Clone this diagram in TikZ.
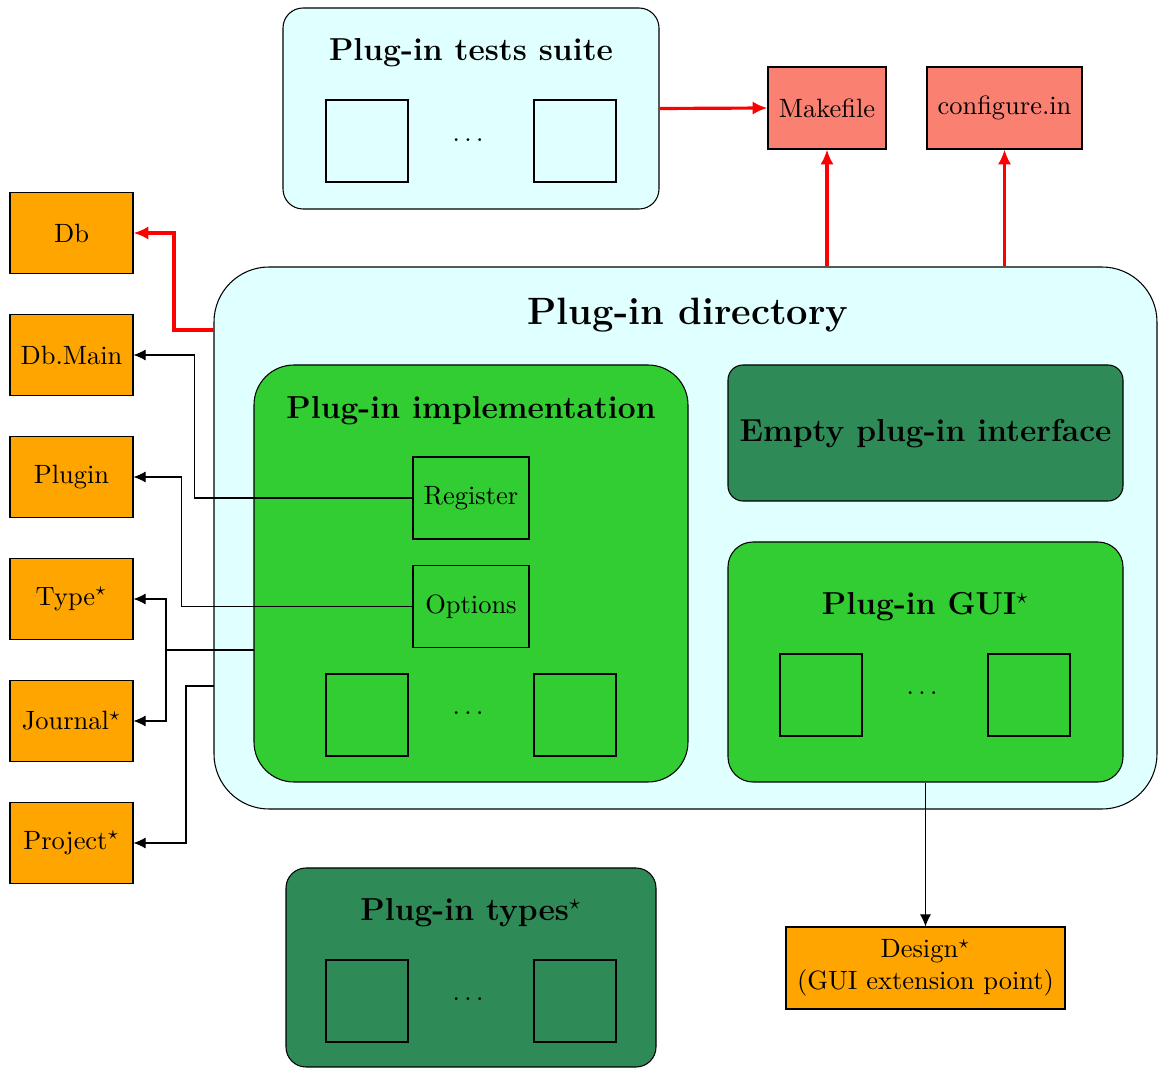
\documentclass[tikz,border=0pt]{standalone}
\usetikzlibrary{arrows.meta}

\definecolor{lightcyan}{HTML}{E0FFFF}
\definecolor{limegreen}{HTML}{32CD32}
\definecolor{seagreen}{HTML}{2E8B57}
\definecolor{boxorange}{HTML}{FFA500}
\definecolor{salmon}{HTML}{FA8072}
\def\pxu{0.378pt}

\begin{document}
\begin{tikzpicture}[x=\pxu,y=-\pxu,>={Latex[length=4.6pt,width=4.2pt]},
	frame/.style={draw,inner sep=0pt,rounded corners=#1},
	title/.style={font=\large\bfseries},
	item/.style={draw,fill=boxorange,minimum width=123*\pxu,minimum height=81*\pxu,inner sep=0pt},
	build/.style={draw,fill=salmon,minimum height=82*\pxu,inner sep=0pt},
	cell/.style={draw,minimum size=82*\pxu,inner sep=0pt},
	redwire/.style={-{Latex[length=5.6pt,width=5pt]},red,line width=1.2pt}]
\useasboundingbox (0,0) rectangle (1158,1068);

% frames
\node[frame=20*\pxu,fill=lightcyan,minimum width=376*\pxu,minimum height=201*\pxu] (suite) at (471,108.5) {};
\node[title] (suitetitle) at (471,53) {Plug-in tests suite};

\node[frame=55*\pxu,fill=lightcyan,minimum width=943*\pxu,minimum height=542*\pxu] (directory) at (685.5,538) {};
\node[font=\Large\bfseries] (dirtitle) at (688,315) {Plug-in directory};

\node[frame=40*\pxu,fill=limegreen,minimum width=434*\pxu,minimum height=417*\pxu] (impl) at (471,573.5) {};
\node[title] (impltitle) at (471,411) {Plug-in implementation};

\node[frame=15*\pxu,fill=seagreen,minimum width=395*\pxu,minimum height=136*\pxu] (iface) at (925.5,433) {};
\node[title] (ifacetitle) at (925.5,434) {Empty plug-in interface};

\node[frame=25*\pxu,fill=limegreen,minimum width=395*\pxu,minimum height=240*\pxu] (gui) at (925.5,662) {};
\node[title] (guititle) at (925.5,607) {Plug-in GUI$^\star$};

\node[frame=20*\pxu,fill=seagreen,minimum width=370*\pxu,minimum height=199*\pxu] (types) at (471,967.5) {};
\node[title] (typestitle) at (471,913) {Plug-in types$^\star$};

% squares and dots
\foreach \x/\y/\n in {367/141/sa,575/141/sb,367/715/ia,575/715/ib,821/695/ga,1029/695/gb,367/1001/ta,575/1001/tb}
{
	\node[cell] (\n) at (\x,\y) {};
}
\foreach \x/\y/\n in {468/140/sdots,468/713/idots,922/693/gdots,468/999/tdots}
{
	\node (\n) at (\x,\y) {$\ldots$};
}

\node[draw,minimum width=116*\pxu,minimum height=82*\pxu,inner sep=0pt] (reg) at (471,498) {Register};
\node[draw,minimum width=116*\pxu,minimum height=82*\pxu,inner sep=0pt] (opt) at (471,606.5) {Options};

% build files
\node[build,minimum width=118*\pxu] (make) at (827,108) {Makefile};
\node[build,minimum width=155*\pxu] (conf) at (1004.5,108) {configure.in};

% extension points
\foreach \y/\t/\n in {233/Db/db,355/Db.Main/dbmain,477/Plugin/plugin,599/Type$^\star$/type,721/Journal$^\star$/journal,843/Project$^\star$/project}
{
	\node[item] (\n) at (71.5,\y) {\t};
}
\node[item,minimum width=279*\pxu,minimum height=82*\pxu,align=center] (design) at (925.5,968) {Design$^\star$\\(GUI extension point)};

% connectors
\draw[redwire] (suite.east) -- (make.west);
\draw[redwire] (directory.north -| make) -- (make.south);
\draw[redwire] (directory.north -| conf) -- (conf.south);

\coordinate (dbout) at (214,330);
\draw[redwire] (dbout) -- ++(-40,0) |- (db.east);

\draw[->] (reg.west) -- ++(-218,0) |- (dbmain.east);
\draw[->] (opt.west) -- ++(-231,0) |- (plugin.east);

\coordinate (implout) at (254,650);
\draw (implout) -- ++(-88,0) coordinate (split);
\draw[->] (split) |- (type.east);
\draw[->] (split) |- (journal.east);

\coordinate (dirout) at (214,686);
\draw[->] (dirout) -- ++(-28,0) |- (project.east);

\draw[->] (gui.south) -- (design.north);
\end{tikzpicture}
\end{document}
